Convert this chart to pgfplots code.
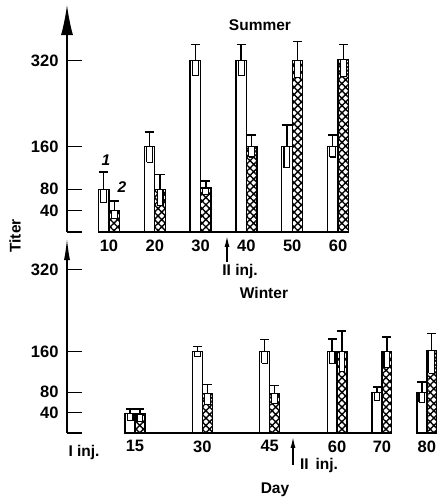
\documentclass[border=0pt]{standalone}
\usepackage{fontspec}
\setmainfont{Liberation Sans}
\usepackage{pgfplots}
\pgfplotsset{compat=1.18}
\usetikzlibrary{arrows.meta,patterns.meta}

\begin{document}
\begin{tikzpicture}
\path[use as bounding box] (0pt,0pt) rectangle (441pt,499pt);
\pgfplotsset{
  panel/.style={
    scale only axis, clip=false,
    axis y line=left, axis x line=bottom,
    x axis line style={draw=none},
    xtick style={draw=none},
    ytick={40,80,160,320},
    extra y ticks={0}, extra y tick labels={},
    ymin=0,
    tick align=inside,
    major tick length=15pt,
    ytick style={line width=1.3pt, black},
    /pgf/number format/assume math mode=true,
    ticklabel style={font=\fontsize{16.5}{18}\selectfont\bfseries},
    yticklabel style={xshift=-5pt},
    xticklabel style={yshift=-4pt},
  },
  wbar/.style={ybar, draw=black, fill=white, line width=1.3pt},
  hbar/.style={ybar, draw=black, line width=1.3pt,
    pattern={Hatch[angle=45,distance=5.2pt,line width=1.4pt]}},
  boxst/.style={draw=black, fill=white, line width=1.1pt, unbounded coords=jump, forget plot},
  errst/.style={draw=black, line width=1.3pt, unbounded coords=jump, forget plot},
}
% ---------------- Summer ----------------
\begin{axis}[panel,
  at={(67pt,267pt)}, anchor=south west,
  width=293pt, height=227pt,
  xmin=0.83, xmax=64.8, ymax=424,
  xtick={10,20,30,40,50,60},
  y axis line style={line width=1.4pt, -{Latex[length=30pt,width=12pt]}},
]
\addplot[black, line width=1.3pt, forget plot] coordinates {(7.6,0) (62.2,0)};
\addplot[wbar, bar width=2.3, bar shift=-1.15] coordinates {
 (10,80) (20,160) (30,320) (40,320) (50,160) (60,160)};
\addplot[hbar, bar width=2.3, bar shift=1.15] coordinates {
 (10,40) (20,80) (30,82) (40,160) (50,320) (60,322)};
% upper error bars
\addplot[errst] coordinates {
 (8.85,80)(8.85,112)(8.85,nan)(7.85,112)(9.85,112)(9.85,nan)
 (18.85,160)(18.85,187)(18.85,nan)(17.85,187)(19.85,187)(19.85,nan)
 (28.85,320)(28.85,350)(28.85,nan)(27.85,350)(29.85,350)(29.85,nan)
 (38.85,320)(38.85,350)(38.85,nan)(37.85,350)(39.85,350)(39.85,nan)
 (48.85,160)(48.85,200)(48.85,nan)(47.85,200)(49.85,200)(49.85,nan)
 (58.85,160)(58.85,181)(58.85,nan)(57.85,181)(59.85,181)};
\addplot[errst] coordinates {
 (11.15,40)(11.15,58)(11.15,nan)(10.15,58)(12.15,58)(12.15,nan)
 (21.15,80)(21.15,108)(21.15,nan)(20.15,108)(22.15,108)(22.15,nan)
 (31.15,82)(31.15,95)(31.15,nan)(30.15,95)(32.15,95)(32.15,nan)
 (41.15,160)(41.15,181)(41.15,nan)(40.15,181)(42.15,181)(42.15,nan)
 (51.15,320)(51.15,356)(51.15,nan)(50.15,356)(52.15,356)(52.15,nan)
 (61.15,322)(61.15,350)(61.15,nan)(60.15,350)(62.15,350)};
% lower error boxes
\addplot[boxst] coordinates {
 (8.2,55)(9.5,55)(9.5,80)(8.2,80)(8.2,55)(8.2,nan)
 (18.2,130)(19.5,130)(19.5,160)(18.2,160)(18.2,130)(18.2,nan)
 (28.2,293)(29.5,293)(29.5,320)(28.2,320)(28.2,293)(28.2,nan)
 (38.2,293)(39.5,293)(39.5,320)(38.2,320)(38.2,293)(38.2,nan)
 (48.2,120)(49.5,120)(49.5,160)(48.2,160)(48.2,120)(48.2,nan)
 (58.2,140)(59.5,140)(59.5,160)(58.2,160)(58.2,140)};
\addplot[boxst] coordinates {
 (10.5,25)(11.8,25)(11.8,40)(10.5,40)(10.5,25)(10.5,nan)
 (20.5,50)(21.8,50)(21.8,80)(20.5,80)(20.5,50)(20.5,nan)
 (30.5,70)(31.8,70)(31.8,82)(30.5,82)(30.5,70)(30.5,nan)
 (40.5,140)(41.8,140)(41.8,160)(40.5,160)(40.5,140)(40.5,nan)
 (50.5,288)(51.8,288)(51.8,320)(50.5,320)(50.5,288)(50.5,nan)
 (60.5,290)(61.8,290)(61.8,322)(60.5,322)(60.5,290)};
\end{axis}
% ---------------- Winter ----------------
\begin{axis}[panel,
  at={(67pt,66pt)}, anchor=south west,
  width=374pt, height=195pt,
  xmin=-0.144, xmax=83.15, ymax=382,
  xtick={15,30,45,60,70,80},
  y axis line style={line width=1.4pt, -{Latex[length=22pt,width=6pt]}},
]
\addplot[black, line width=1.3pt, forget plot] coordinates {(12.8,0) (72.2,0)};
\addplot[wbar, bar width=2.2, bar shift=-1.1] coordinates {
 (15,38) (30,160) (45,160) (60,160) (70,80) (80,80)};
\addplot[hbar, bar width=2.2, bar shift=1.1] coordinates {
 (15,37) (30,78) (45,78) (60,160) (70,160) (80,162)};
\addplot[errst] coordinates {
 (13.9,38)(13.9,47)(13.9,nan)(12.9,47)(14.9,47)(14.9,nan)
 (28.9,160)(28.9,170)(28.9,nan)(27.9,170)(29.9,170)(29.9,nan)
 (43.9,160)(43.9,183)(43.9,nan)(42.9,183)(44.9,183)(44.9,nan)
 (58.9,160)(58.9,184)(58.9,nan)(57.9,184)(59.9,184)(59.9,nan)
 (68.9,80)(68.9,90)(68.9,nan)(67.9,90)(69.9,90)(69.9,nan)
 (78.9,80)(78.9,100)(78.9,nan)(77.9,100)(79.9,100)};
\addplot[errst] coordinates {
 (16.1,37)(16.1,47)(16.1,nan)(15.1,47)(17.1,47)(17.1,nan)
 (31.1,78)(31.1,95)(31.1,nan)(30.1,95)(32.1,95)(32.1,nan)
 (46.1,78)(46.1,93)(46.1,nan)(45.1,93)(47.1,93)(47.1,nan)
 (61.1,160)(61.1,200)(61.1,nan)(60.1,200)(62.1,200)(62.1,nan)
 (71.1,160)(71.1,188)(71.1,nan)(70.1,188)(72.1,188)(72.1,nan)
 (81.1,162)(81.1,195)(81.1,nan)(80.1,195)(82.1,195)};
\addplot[boxst] coordinates {
 (13.25,25)(14.55,25)(14.55,38)(13.25,38)(13.25,25)(13.25,nan)
 (28.25,150)(29.55,150)(29.55,160)(28.25,160)(28.25,150)(28.25,nan)
 (43.25,137)(44.55,137)(44.55,160)(43.25,160)(43.25,137)(43.25,nan)
 (58.25,137)(59.55,137)(59.55,160)(58.25,160)(58.25,137)(58.25,nan)
 (68.25,64)(69.55,64)(69.55,80)(68.25,80)(68.25,64)(68.25,nan)
 (78.25,60)(79.55,60)(79.55,80)(78.25,80)(78.25,60)};
\addplot[boxst] coordinates {
 (15.45,22)(16.75,22)(16.75,37)(15.45,37)(15.45,22)(15.45,nan)
 (30.45,55)(31.75,55)(31.75,78)(30.45,78)(30.45,55)(30.45,nan)
 (45.45,58)(46.75,58)(46.75,78)(45.45,78)(45.45,58)(45.45,nan)
 (60.45,120)(61.75,120)(61.75,160)(60.45,160)(60.45,120)(60.45,nan)
 (70.45,129)(71.75,129)(71.75,160)(70.45,160)(70.45,129)(70.45,nan)
 (80.45,117)(81.75,117)(81.75,162)(80.45,162)(80.45,117)};
\end{axis}
% ---------------- annotations ----------------
\begin{scope}[every node/.style={font=\fontsize{15.5}{17}\selectfont\bfseries, inner sep=0pt}]
\node at (260pt,474pt) {Summer};
\node at (264pt,206pt) {Winter};
\node[rotate=90] at (15pt,263pt) {Titer};
\node at (106pt,339pt) {\itshape 1};
\node at (122pt,312pt) {\itshape 2};
\node at (240pt,228pt) {II inj.};
\node at (319pt,34pt) {II\ \,inj.};
\node at (84pt,47pt) {I inj.};
\node at (275pt,9pt) {Day};
\end{scope}
\draw[line width=1.3pt, -{Latex[length=11pt,width=5pt]}] (227pt,237pt) -- (227pt,263pt);
\draw[line width=1.3pt, -{Latex[length=11pt,width=5pt]}] (293pt,34pt) -- (293pt,62pt);
\end{tikzpicture}
\end{document}
